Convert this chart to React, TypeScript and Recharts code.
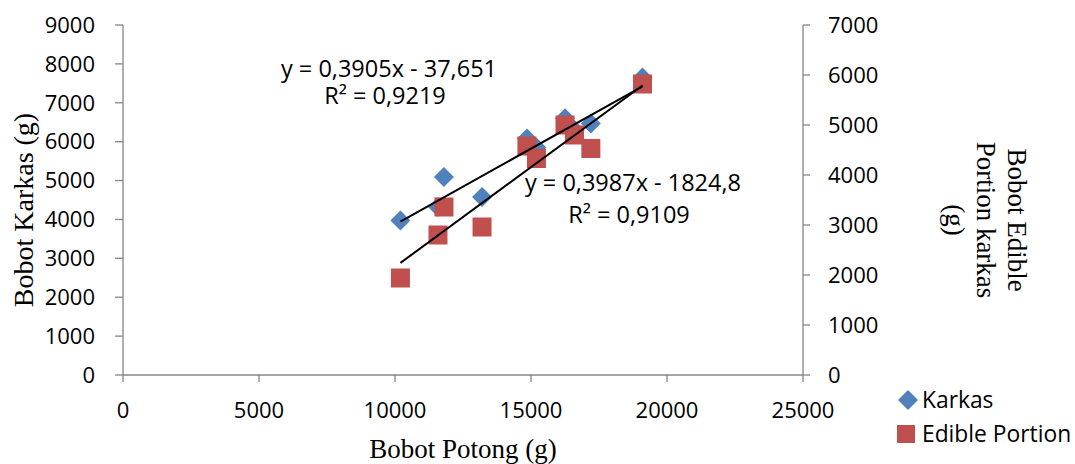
import React from 'react';
import { ScatterChart, Scatter, XAxis, YAxis } from 'recharts';

// Shared x values (Bobot Potong, g)
const bobotPotong = [10200, 11580, 11800, 13200, 14850, 15200, 16250, 16600, 17200, 19100];
// Left axis series (Bobot Karkas, g)
const karkas = [3970, 4320, 5090, 4580, 6080, 5850, 6600, 6300, 6470, 7650];
// Right axis series (Bobot Edible Portion karkas, g)
const ediblePortion = [1940, 2800, 3360, 2960, 4580, 4330, 5000, 4800, 4530, 5820];

const xTicks = [0, 5000, 10000, 15000, 20000, 25000];
const leftTicks = [0, 1000, 2000, 3000, 4000, 5000, 6000, 7000, 8000, 9000];
const rightTicks = [0, 1000, 2000, 3000, 4000, 5000, 6000, 7000];

// Linear trendlines as printed on the chart
const trendKarkas = { slope: 0.3905, intercept: -37.651 };
const trendEdible = { slope: 0.3987, intercept: -1824.8 };
const trendRange = [10200, 19100];

const karkasData = bobotPotong.map((x, i) => ({ x, y: karkas[i] }));
const edibleData = bobotPotong.map((x, i) => ({ x, y: ediblePortion[i] }));
const trendKData = trendRange.map((x) => ({ x, y: trendKarkas.slope * x + trendKarkas.intercept }));
const trendEData = trendRange.map((x) => ({ x, y: trendEdible.slope * x + trendEdible.intercept }));

const BLUE = '#4F81BD';
const RED = '#C0504D';
const AXIS = '#868686';
const SANS = "'Open Sans', sans-serif";
const SERIF = "'Liberation Serif', 'DejaVu Serif', serif";

const Diamond = (props: any) => {
  const { cx, cy } = props;
  if (cx == null || cy == null) return <g />;
  const r = 10;
  return (
    <polygon
      points={`${cx},${cy - r} ${cx + r},${cy} ${cx},${cy + r} ${cx - r},${cy}`}
      fill={BLUE}
    />
  );
};

const Square = (props: any) => {
  const { cx, cy } = props;
  if (cx == null || cy == null) return <g />;
  const h = 9.5;
  return <rect x={cx - h} y={cy - h} width={h * 2} height={h * 2} fill={RED} />;
};

const NoPoint = () => <g />;

const tickStyle = { fill: '#000', fontSize: 22, fontFamily: SANS };

export default function App() {
  return (
    <div style={{ position: 'absolute', left: 0, top: 0, width: 1075, height: 464, background: '#fff' }}>
      <ScatterChart width={1075} height={464} margin={{ top: 25, right: 0, bottom: 0, left: 0 }}>
        <XAxis
          type="number"
          dataKey="x"
          domain={[0, 25000]}
          ticks={xTicks}
          interval={0}
          height={89}
          tickSize={7}
          tickMargin={20}
          stroke={AXIS}
          strokeWidth={1.3}
          tick={tickStyle}
          allowDataOverflow
        />
        <YAxis
          yAxisId="left"
          type="number"
          dataKey="y"
          domain={[0, 9000]}
          ticks={leftTicks}
          interval={0}
          width={123}
          tickSize={8}
          tickMargin={20}
          stroke={AXIS}
          strokeWidth={1.3}
          tick={tickStyle}
          allowDataOverflow
        />
        <YAxis
          yAxisId="right"
          orientation="right"
          type="number"
          dataKey="y"
          domain={[0, 7000]}
          ticks={rightTicks}
          interval={0}
          width={272}
          tickSize={7}
          tickMargin={18}
          stroke={AXIS}
          strokeWidth={1.3}
          tick={tickStyle}
          allowDataOverflow
        />
        <Scatter yAxisId="left" name="Karkas" data={karkasData} fill={BLUE} shape={Diamond} isAnimationActive={false} />
        <Scatter yAxisId="right" name="Edible Portion" data={edibleData} fill={RED} shape={Square} isAnimationActive={false} />
        <Scatter
          yAxisId="left"
          data={trendKData}
          line={{ stroke: '#000', strokeWidth: 2 }}
          shape={NoPoint}
          isAnimationActive={false}
        />
        <Scatter
          yAxisId="right"
          data={trendEData}
          line={{ stroke: '#000', strokeWidth: 2 }}
          shape={NoPoint}
          isAnimationActive={false}
        />
      </ScatterChart>
      <svg
        width={1075}
        height={464}
        style={{ position: 'absolute', left: 0, top: 0, pointerEvents: 'none' }}
      >
        {/* Axis titles */}
        <text x={33} y={210} transform="rotate(-90 33 210)" textAnchor="middle" fontFamily={SERIF} fontSize={28} fill="#000">
          Bobot Karkas (g)
        </text>
        <text x={463} y={458} textAnchor="middle" fontFamily={SERIF} fontSize={27} fill="#000">
          Bobot Potong (g)
        </text>
        <text transform="rotate(90 977 220)" textAnchor="middle" fontFamily={SERIF} fontSize={27} fill="#000">
          <tspan x={977} y={189}>Bobot Edible</tspan>
          <tspan x={977} y={220}>Portion karkas</tspan>
          <tspan x={977} y={251}>(g)</tspan>
        </text>

        {/* Trendline equations */}
        <text textAnchor="middle" fontFamily={SANS} fontSize={23.5} fill="#000">
          <tspan x={389} y={77}>y = 0,3905x - 37,651</tspan>
          <tspan x={385} y={104}>R² = 0,9219</tspan>
        </text>
        <text textAnchor="middle" fontFamily={SANS} fontSize={23.5} fill="#000">
          <tspan x={633} y={191}>y = 0,3987x - 1824,8</tspan>
          <tspan x={629} y={223}>R² = 0,9109</tspan>
        </text>

        {/* Legend */}
        <polygon points="908,390 918,400 908,410 898,400" fill={BLUE} />
        <text x={922} y={408} fontFamily={SANS} fontSize={22.8} fill="#000">
          Karkas
        </text>
        <rect x={897} y={425} width={18} height={18} fill={RED} />
        <text x={922} y={442} fontFamily={SANS} fontSize={22.8} fill="#000">
          Edible Portion
        </text>
      </svg>
    </div>
  );
}
